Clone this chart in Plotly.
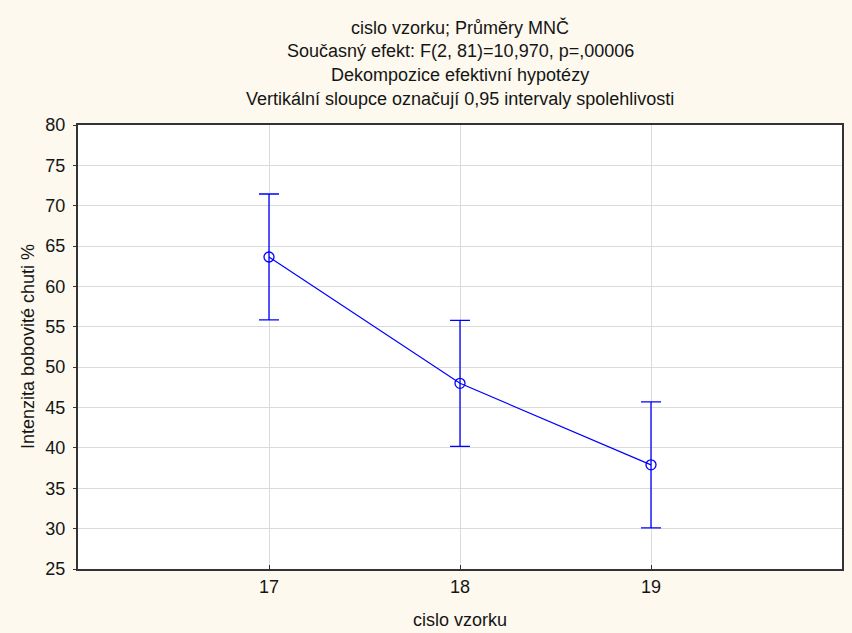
import plotly.graph_objects as go

# Least-squares means per sample with 0.95 confidence half-widths
samples = [17, 18, 19]
means = [63.65, 48.0, 37.9]
ci_half = [7.8, 7.8, 7.8]

title_lines = [
    "cislo vzorku; Průměry MNČ",
    "Současný efekt: F(2, 81)=10,970, p=,00006",
    "Dekompozice efektivní hypotézy",
    "Vertikální sloupce označují 0,95 intervaly spolehlivosti",
]
x_title = "cislo vzorku"
y_title = "Intenzita bobovité chuti %"

x_ticks = [17, 18, 19]
y_ticks = [25, 30, 35, 40, 45, 50, 55, 60, 65, 70, 75, 80]

blue = "#0000FF"
text_color = "#151515"
font_family = "Liberation Sans, Arial, sans-serif"

W, H = 852, 633
top_m, bot_m, left_m, right_m = 125, 64, 78, 10
plot_h = H - top_m - bot_m
plot_w = W - left_m - right_m

fig = go.Figure()
fig.add_trace(go.Scatter(
    x=samples,
    y=means,
    mode="lines+markers",
    line=dict(color=blue, width=1.2),
    marker=dict(symbol="circle-open", size=10, color=blue, line=dict(width=1.3, color=blue)),
    error_y=dict(type="data", array=ci_half, visible=True, color=blue, thickness=1.3, width=10),
    showlegend=False,
))

text_font = dict(size=18, color=text_color, family=font_family)

# Four centred title lines stacked above the plot area
annotations = []
for i, txt in enumerate(title_lines):
    center_px = 27 + 24 * i
    annotations.append(dict(
        text=txt, x=0.5, xref="paper",
        y=1 + (top_m - center_px) / plot_h, yref="paper", yanchor="middle",
        showarrow=False, font=text_font,
    ))

# Axis titles
annotations.append(dict(
    text=x_title, x=0.5, xref="paper", xanchor="center",
    y=-(620 - (H - bot_m)) / plot_h, yref="paper", yanchor="middle",
    showarrow=False, font=text_font,
))
annotations.append(dict(
    text=y_title, textangle=-90,
    x=-(left_m - 28) / plot_w, xref="paper", xanchor="center",
    y=0.5, yref="paper", yanchor="middle",
    showarrow=False, font=text_font,
))

fig.update_layout(
    width=W, height=H,
    margin=dict(l=left_m, r=right_m, t=top_m, b=bot_m),
    paper_bgcolor="#FDF9EE",
    plot_bgcolor="#FFFFFF",
    font=dict(family=font_family, size=18, color=text_color),
    annotations=annotations,
    xaxis=dict(
        range=[16, 20], tickvals=x_ticks, ticktext=[str(v) for v in x_ticks],
        showgrid=True, gridcolor="#DADADA", gridwidth=1,
        showline=True, linecolor="#333333", linewidth=2, mirror=True,
        ticks="inside", ticklen=4, tickcolor="#333333",
        zeroline=False, tickfont=dict(size=18), automargin=False,
    ),
    yaxis=dict(
        range=[25, 80], tickvals=y_ticks,
        showgrid=True, gridcolor="#DADADA", gridwidth=1,
        showline=True, linecolor="#333333", linewidth=2, mirror=True,
        ticks="outside", ticklen=3, tickcolor="#333333",
        ticklabelstandoff=4,
        zeroline=False, tickfont=dict(size=18), automargin=False,
    ),
)

fig.write_html("out.html")
